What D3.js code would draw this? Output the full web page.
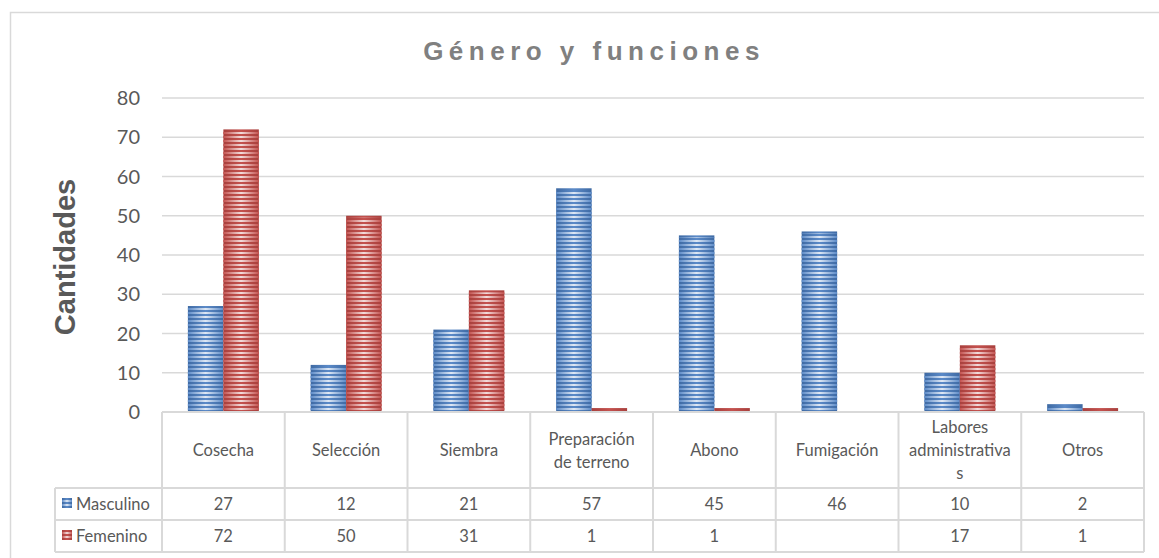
<!DOCTYPE html>
<html>
<head>
<meta charset="utf-8">
<script src="https://cdn.jsdelivr.net/npm/d3@7"></script>
<style>
  body { margin: 0; background: #fff; }
  svg { display: block; font-family: Lato, "Open Sans", sans-serif; }
</style>
</head>
<body>
<svg id="chart" width="1159" height="558"></svg>
<script>
// chart data
const categories = [
  ['Cosecha'],
  ['Selección'],
  ['Siembra'],
  ['Preparación', 'de terreno'],
  ['Abono'],
  ['Fumigación'],
  ['Labores', 'administrativa', 's'],
  ['Otros']
];
const seriesNames = ['Masculino', 'Femenino'];
const masculino = [27, 12, 21, 57, 45, 46, 10, 2];
const femenino = [72, 50, 31, 1, 1, null, 17, 1];
const yTicks = [0, 10, 20, 30, 40, 50, 60, 70, 80];

const svg = d3.select('#chart');
const W = 1159;
const margin = { left: 162, right: 1144, top: 98, bottom: 412 };
const gridColor = '#d9d9d9';
const textColor = '#595959';

// stripe patterns for bars
const defs = svg.append('defs');
function makeFill(id, dark, mid, light) {
  const g = defs.append('linearGradient').attr('id', id + 'Grad')
    .attr('x1', 0).attr('x2', 1).attr('y1', 0).attr('y2', 0);
  g.append('stop').attr('offset', '0%').attr('stop-color', dark);
  g.append('stop').attr('offset', '50%').attr('stop-color', mid);
  g.append('stop').attr('offset', '100%').attr('stop-color', dark);
  const lg = defs.append('linearGradient').attr('id', id + 'Light')
    .attr('x1', 0).attr('x2', 1).attr('y1', 0).attr('y2', 0);
  lg.append('stop').attr('offset', '0%').attr('stop-color', mid);
  lg.append('stop').attr('offset', '50%').attr('stop-color', light);
  lg.append('stop').attr('offset', '100%').attr('stop-color', mid);
}
makeFill('blue', '#3f6aa3', '#5b8ac8', '#dfe8f4');
makeFill('red', '#a8403d', '#c4514e', '#f2dcdc');

const stripes = defs.append('pattern').attr('id', 'stripes')
  .attr('patternUnits', 'userSpaceOnUse').attr('width', 8).attr('height', 4);
stripes.append('rect').attr('width', 8).attr('height', 2).attr('fill', 'white');

// outer frame
svg.append('rect').attr('x', 10.5).attr('y', 12.5).attr('width', W).attr('height', 600)
  .attr('fill', 'none').attr('stroke', gridColor).attr('stroke-width', 1.5);

// title
svg.append('text').attr('x', 594).attr('y', 60).attr('text-anchor', 'middle')
  .attr('font-family', '"Liberation Sans", Arial, sans-serif')
  .attr('font-size', 26).attr('font-weight', 'bold').attr('letter-spacing', 5.5)
  .attr('fill', '#808080').text('Género y funciones');

// y axis title
svg.append('text').attr('transform', 'translate(75,257) rotate(-90)')
  .attr('text-anchor', 'middle')
  .attr('font-family', '"Liberation Sans", Arial, sans-serif')
  .attr('font-size', 29).attr('font-weight', 'bold')
  .attr('fill', textColor).text('Cantidades');

const x = d3.scaleBand().domain(d3.range(categories.length))
  .range([margin.left, margin.right]);
const xs = d3.scaleBand().domain(seriesNames)
  .range([0, x.bandwidth()]).paddingOuter(0.73).paddingInner(0);
const y = d3.scaleLinear().domain([0, 80]).range([margin.bottom, margin.top]);

// gridlines
svg.append('g').selectAll('line').data(yTicks.filter(d => d > 0)).join('line')
  .attr('x1', margin.left).attr('x2', margin.right)
  .attr('y1', d => y(d)).attr('y2', d => y(d))
  .attr('stroke', gridColor).attr('stroke-width', 1.5);

// y tick labels
svg.append('g').selectAll('text').data(yTicks).join('text')
  .attr('x', 140).attr('y', d => y(d) + 7)
  .attr('text-anchor', 'end').attr('font-size', 20).attr('fill', textColor)
  .text(d => d);

// bars
const series = [
  { name: 'Masculino', values: masculino, fill: 'blue' },
  { name: 'Femenino', values: femenino, fill: 'red' }
];
series.forEach(s => {
  const g = svg.append('g');
  const data = s.values.map((v, i) => ({ i, v })).filter(d => d.v != null);
  g.selectAll('rect.base').data(data).join('rect')
    .attr('x', d => x(d.i) + xs(s.name)).attr('width', xs.bandwidth())
    .attr('y', d => y(d.v)).attr('height', d => y(0) - y(d.v))
    .attr('fill', 'url(#' + s.fill + 'Grad)');
  // light stripes on top
  const cp = defs.append('mask').attr('id', s.fill + 'Mask');
  cp.append('rect').attr('x', 0).attr('y', 0).attr('width', W).attr('height', 558)
    .attr('fill', 'url(#stripes)');
  g.selectAll('rect.light').data(data).join('rect')
    .attr('x', d => x(d.i) + xs(s.name)).attr('width', xs.bandwidth())
    .attr('y', d => y(d.v) + 2).attr('height', d => Math.max(0, y(0) - y(d.v) - 2))
    .attr('fill', 'url(#' + s.fill + 'Light)')
    .attr('mask', 'url(#' + s.fill + 'Mask)');
});

// data table
const rowY = [412, 488, 520, 552];
const tableLeft = 55;
const tbl = svg.append('g');
// horizontal lines
tbl.append('line').attr('x1', margin.left).attr('x2', margin.right)
  .attr('y1', rowY[0]).attr('y2', rowY[0]).attr('stroke', gridColor).attr('stroke-width', 2);
rowY.slice(1).forEach(ry => {
  tbl.append('line').attr('x1', tableLeft).attr('x2', margin.right)
    .attr('y1', ry).attr('y2', ry).attr('stroke', gridColor).attr('stroke-width', 2);
});
// vertical lines
const vx = d3.range(categories.length + 1).map(i => i < categories.length ? x(i) : margin.right);
vx.forEach(v => {
  tbl.append('line').attr('x1', v).attr('x2', v).attr('y1', rowY[0]).attr('y2', rowY[3])
    .attr('stroke', gridColor).attr('stroke-width', 2);
});
tbl.append('line').attr('x1', tableLeft).attr('x2', tableLeft).attr('y1', rowY[1]).attr('y2', rowY[3])
  .attr('stroke', gridColor).attr('stroke-width', 2);

// category labels
categories.forEach((lines, i) => {
  const cx = x(i) + x.bandwidth() / 2;
  const lh = 23;
  const y0 = 456 - (lines.length - 1) * lh / 2;
  const t = tbl.append('text').attr('text-anchor', 'middle')
    .attr('font-size', 16.5).attr('fill', textColor);
  lines.forEach((ln, k) => {
    t.append('tspan').attr('x', cx).attr('y', y0 + k * lh).text(ln);
  });
});

// series rows
series.forEach((s, r) => {
  const cy = (rowY[r + 1] + rowY[r + 2]) / 2 + 6;
  // legend key
  const key = tbl.append('g');
  key.append('rect').attr('x', 62).attr('y', cy - 12).attr('width', 10).attr('height', 10)
    .attr('fill', 'url(#' + s.fill + 'Grad)');
  key.append('rect').attr('x', 62).attr('y', cy - 10).attr('width', 10).attr('height', 8)
    .attr('fill', 'url(#' + s.fill + 'Light)').attr('mask', 'url(#' + s.fill + 'Mask)');
  tbl.append('text').attr('x', 76).attr('y', cy).attr('font-size', 16.5)
    .attr('fill', textColor).text(s.name);
  s.values.forEach((v, i) => {
    if (v == null) return;
    tbl.append('text').attr('x', x(i) + x.bandwidth() / 2).attr('y', cy)
      .attr('text-anchor', 'middle').attr('font-size', 16.5).attr('fill', textColor).text(v);
  });
});
</script>
</body>
</html>
